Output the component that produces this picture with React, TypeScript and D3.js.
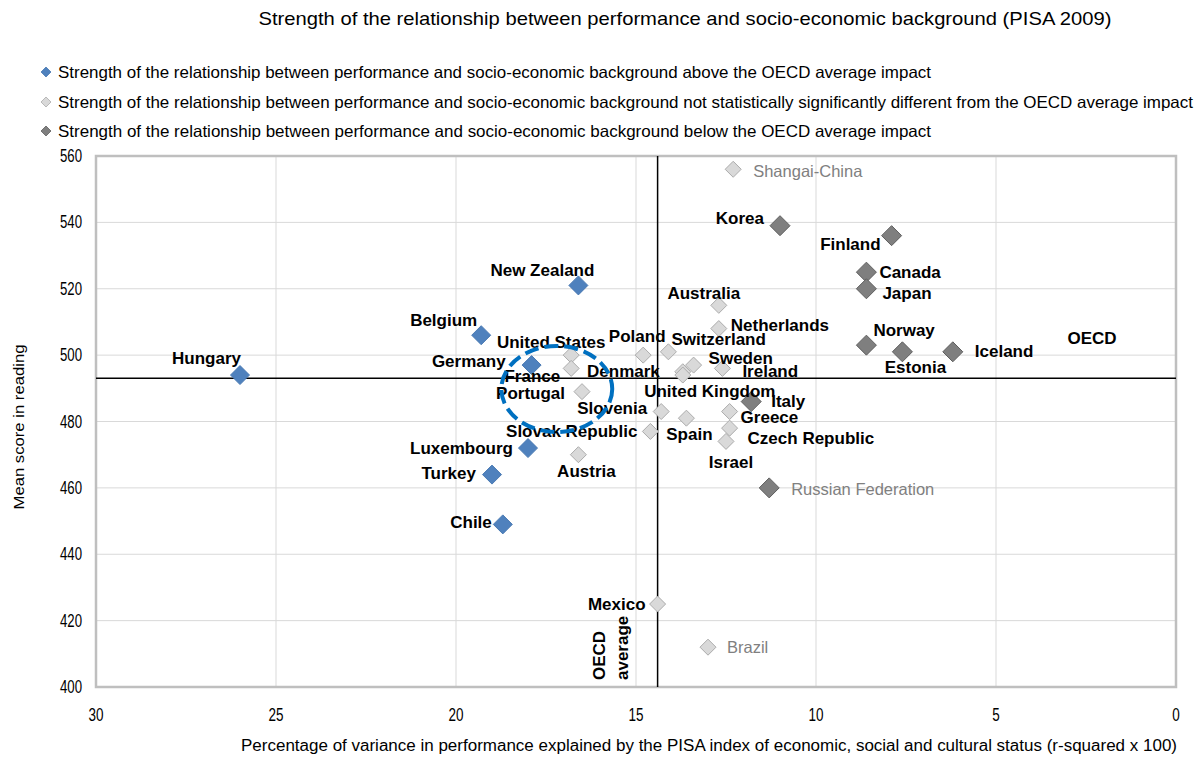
import React from "react";
import * as d3 from "d3";

// ---------- DATA ----------
const aboveNames = ["Hungary", "Belgium", "New Zealand", "Germany", "Luxembourg", "Turkey", "Chile"];
const aboveX = [26.0, 19.3, 16.6, 17.9, 18.0, 19.0, 18.7];
const aboveY = [494, 506, 521, 497, 472, 464, 449];

const notSigNames = [
  "Shangai-China", "Australia", "Netherlands", "Poland", "Switzerland", "Sweden", "Denmark",
  "United Kingdom", "Ireland", "United States", "France", "Portugal", "Slovenia", "Slovak Republic",
  "Spain", "Greece", "Czech Republic", "Israel", "Austria", "Mexico", "Brazil",
];
const notSigX = [12.3, 12.7, 12.7, 14.8, 14.1, 13.4, 13.7, 13.7, 12.6, 16.8, 16.8, 16.5, 14.3, 14.6, 13.6, 12.4, 12.4, 12.5, 16.6, 14.4, 13.0];
const notSigY = [556, 515, 508, 500, 501, 497, 495, 494, 496, 500, 496, 489, 483, 477, 481, 483, 478, 474, 470, 425, 412];

const belowNames = ["Korea", "Finland", "Canada", "Japan", "Norway", "Estonia", "Iceland", "Italy", "Russian Federation"];
const belowX = [11.0, 7.9, 8.6, 8.6, 8.6, 7.6, 6.2, 11.8, 11.3];
const belowY = [539, 536, 525, 520, 503, 501, 501, 486, 460];

const nonOecd = ["Shangai-China", "Brazil", "Russian Federation"];

const oecdAvgX = 14.4;
const oecdAvgY = 493;

const xTicks = [30, 25, 20, 15, 10, 5, 0];
const yTicks = [400, 420, 440, 460, 480, 500, 520, 540, 560];

const highlight = { cx: 17.2, cy: 489.8, rx: 1.54, ry: 12.96 };

const legendLabels = [
  "Strength of the relationship between performance and socio-economic background above the OECD average impact",
  "Strength of the relationship between performance and socio-economic background not statistically significantly different from the OECD average impact",
  "Strength of the relationship between performance and socio-economic background below the OECD average impact",
];

const titleText = "Strength of the relationship between performance and socio-economic background (PISA 2009)";
const xTitle = "Percentage of variance in performance explained by the PISA index of economic, social and cultural status (r-squared x 100)";
const yTitle = "Mean score in reading";

// ---------- LAYOUT ----------
const W = 1203, H = 758;
const plot = { left: 96, right: 1176, top: 156, bottom: 687 };
const FONT = "'Liberation Sans', Arial, sans-serif";

// label placement: anchor, dx, dy (px, relative to marker centre)
const labelPos: Record<string, [string, number, number]> = {
  "Hungary": ["end", 1, -17],
  "Belgium": ["end", -4, -15],
  "New Zealand": ["middle", -36, -15],
  "Germany": ["end", -26, -4],
  "Luxembourg": ["end", -15, 0],
  "Turkey": ["end", -16, -1],
  "Chile": ["end", -11, -2],
  "Shangai-China": ["start", 20, 2],
  "Korea": ["end", -16, -7],
  "Finland": ["end", -11, 9],
  "Canada": ["start", 13, 0],
  "Japan": ["start", 16, 5],
  "Australia": ["middle", -15, -12],
  "Netherlands": ["start", 12, -3],
  "Norway": ["start", 7, -15],
  "Estonia": ["middle", 13, 16],
  "Iceland": ["start", 22, 0],
  "Poland": ["middle", -6, -19],
  "Switzerland": ["start", 3, -12],
  "Sweden": ["start", 15, -7],
  "Ireland": ["start", 20, 3],
  "United Kingdom": ["middle", 27, 16],
  "Denmark": ["end", -23, 0],
  "United States": ["middle", -20, -13],
  "France": ["end", -11, 8],
  "Portugal": ["end", -17, 2],
  "Slovenia": ["end", -14, -3],
  "Slovak Republic": ["end", -13, 0],
  "Spain": ["middle", 3, 16],
  "Greece": ["start", 11, 6],
  "Czech Republic": ["start", 18, 10],
  "Israel": ["middle", 5, 21],
  "Austria": ["middle", 8, 17],
  "Italy": ["start", 20, 0],
  "Russian Federation": ["start", 22, 1],
  "Mexico": ["end", -12, 0],
  "Brazil": ["start", 19, 0],
};

const styles = {
  above: { fill: "#4f81bd", stroke: "#4a7ab3", r: 9.5 },
  notSig: { fill: "#d9d9d9", stroke: "#acacac", r: 8 },
  below: { fill: "#7f7f7f", stroke: "#5f5f5f", r: 10 },
};

function diamond(x: number, y: number, r: number) {
  return `M${x},${y - r}L${x + r},${y}L${x},${y + r}L${x - r},${y}Z`;
}

export default function App() {
  const x = d3.scaleLinear().domain([30, 0]).range([plot.left, plot.right]);
  const y = d3.scaleLinear().domain([400, 560]).range([plot.bottom, plot.top]);

  const groups = [
    { key: "above", names: aboveNames, xs: aboveX, ys: aboveY, st: styles.above },
    { key: "notSig", names: notSigNames, xs: notSigX, ys: notSigY, st: styles.notSig },
    { key: "below", names: belowNames, xs: belowX, ys: belowY, st: styles.below },
  ];

  const legendY = [72, 102, 131];
  const legendLens = [873, 1135, 873];
  const legendStyles = [styles.above, styles.notSig, styles.below];

  return (
    <svg width={W} height={H} style={{ position: "absolute", left: 0, top: 0, background: "#fff" }} fontFamily={FONT}>
      <rect x={0} y={0} width={W} height={H} fill="#fff" />
      {/* title */}
      <text x={685} y={18} textAnchor="middle" dominantBaseline="central" fontSize={19} fill="#000"
        textLength={853} lengthAdjust="spacingAndGlyphs">{titleText}</text>

      {/* legend */}
      {legendLabels.map((t, i) => (
        <g key={i}>
          <path d={diamond(46, legendY[i], 5)} fill={legendStyles[i].fill} stroke={legendStyles[i].stroke} strokeWidth={0.8} />
          <text x={58} y={legendY[i]} dominantBaseline="central" fontSize={16.5} fill="#000"
            textLength={legendLens[i]} lengthAdjust="spacingAndGlyphs">{t}</text>
        </g>
      ))}

      {/* gridlines */}
      {xTicks.filter((t) => t !== 30 && t !== 0).map((t) => (
        <line key={"gx" + t} x1={x(t)} x2={x(t)} y1={plot.top} y2={plot.bottom} stroke="#d9d9d9" strokeWidth={1} />
      ))}
      {yTicks.filter((t) => t !== 400 && t !== 560).map((t) => (
        <line key={"gy" + t} x1={plot.left} x2={plot.right} y1={y(t)} y2={y(t)} stroke="#d9d9d9" strokeWidth={1} />
      ))}
      <rect x={plot.left} y={plot.top} width={plot.right - plot.left} height={plot.bottom - plot.top}
        fill="none" stroke="#bfbfbf" strokeWidth={2.5} />

      {/* tick labels */}
      {yTicks.map((t) => (
        <text key={"ty" + t} x={82} y={y(t)} textAnchor="end" dominantBaseline="central" fontSize={18}
          textLength={22} lengthAdjust="spacingAndGlyphs" fill="#000">{t}</text>
      ))}
      {xTicks.map((t) => {
        const s = String(t);
        return (
          <text key={"tx" + t} x={x(t)} y={715} textAnchor="middle" dominantBaseline="central" fontSize={18}
            textLength={s.length * 7.5} lengthAdjust="spacingAndGlyphs" fill="#000">{s}</text>
        );
      })}

      {/* axis titles */}
      <text x={709} y={745} textAnchor="middle" dominantBaseline="central" fontSize={16}
        textLength={936} lengthAdjust="spacingAndGlyphs" fill="#000">{xTitle}</text>
      <text transform={`translate(18,427) rotate(-90)`} textAnchor="middle" dominantBaseline="central" fontSize={15.5}
        textLength={165} lengthAdjust="spacingAndGlyphs" fill="#000">{yTitle}</text>

      {/* OECD average lines */}
      <line x1={x(oecdAvgX)} x2={x(oecdAvgX)} y1={plot.top} y2={plot.bottom} stroke="#000" strokeWidth={1.5} />
      <line x1={plot.left} x2={plot.right} y1={y(oecdAvgY)} y2={y(oecdAvgY)} stroke="#000" strokeWidth={1.5} />
      <text x={1092} y={338} textAnchor="middle" dominantBaseline="central" fontSize={17} fontWeight="bold" fill="#000">OECD</text>
      <text transform={`translate(605,680) rotate(-90)`} fontSize={17} fontWeight="bold" fill="#000">OECD</text>
      <text transform={`translate(628,680) rotate(-90)`} fontSize={17} fontWeight="bold" fill="#000">average</text>

      {/* markers */}
      {groups.map((g) =>
        g.names.map((n, i) => (
          <path key={g.key + n} d={diamond(x(g.xs[i]), y(g.ys[i]), g.st.r)} fill={g.st.fill} stroke={g.st.stroke} strokeWidth={1} />
        ))
      )}

      {/* labels */}
      {groups.map((g) =>
        g.names.map((n, i) => {
          const p = labelPos[n] || ["start", 10, 0];
          const gray = nonOecd.includes(n);
          return (
            <text key={"l" + n} x={x(g.xs[i]) + p[1]} y={y(g.ys[i]) + p[2]} textAnchor={p[0] as any}
              dominantBaseline="central" fontSize={gray ? 16.5 : 17} fontWeight={gray ? "normal" : "bold"}
              fill={gray ? "#808080" : "#000"}>{n}</text>
          );
        })
      )}

      {/* highlight ellipse */}
      <ellipse cx={x(highlight.cx)} cy={y(highlight.cy)}
        rx={x(0) - x(highlight.rx)} ry={y(400) - y(400 + highlight.ry)}
        fill="none" stroke="#0070c0" strokeWidth={4} strokeDasharray="14 6" />
    </svg>
  );
}
